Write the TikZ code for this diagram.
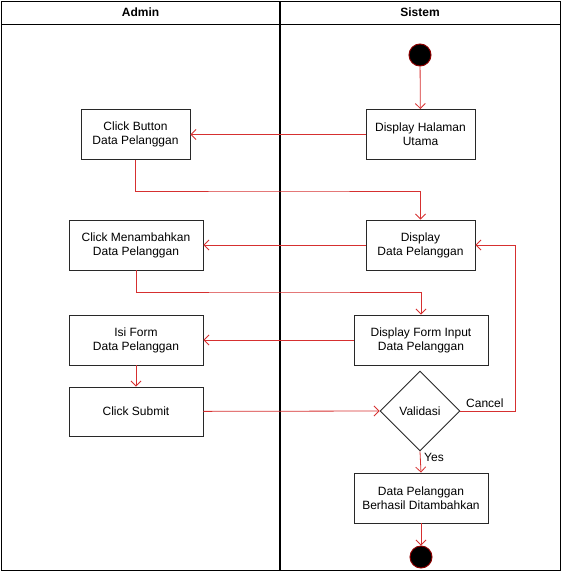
\documentclass[tikz,border=0pt]{standalone}
\usepackage{fontspec}
\setmainfont{Liberation Sans}
\usetikzlibrary{arrows.meta,shapes.geometric}
\definecolor{flow}{RGB}{214,48,48}
\definecolor{boxline}{RGB}{40,40,40}
\definecolor{dotrim}{RGB}{140,0,0}
\begin{document}
\begin{tikzpicture}[x=1pt,y=-1pt,
  font=\fontsize{12}{14}\selectfont,
  act/.style={draw=boxline,line width=0.9pt,fill=white,minimum height=50pt,align=center,inner sep=2pt},
  flowline/.style={draw=flow,line width=0.8pt,-{Straight Barb[length=5pt,width=10pt]}},
  dot/.style={circle,fill=black,draw=dotrim,line width=1pt,minimum size=22pt,inner sep=0pt},
  lane/.style={draw=black,line width=0.9pt}]
\useasboundingbox (0,0) rectangle (562,573);
% swimlanes
\draw[lane] (1,1) rectangle (560,570);
\draw[lane] (1,24) -- (560,24);
\draw[black,line width=1.6pt] (280,1) -- (280,570);
\node[font=\fontsize{12}{14}\selectfont\bfseries] (hadmin) at (140.5,12.5) {Admin};
\node[font=\fontsize{12}{14}\selectfont\bfseries] (hsistem) at (420,12.5) {Sistem};
% activity nodes
\node[dot] (start) at (420,55) {};
\node[act,minimum width=109pt] (halaman) at (420.5,134.5) {Display Halaman\\Utama};
\node[act,minimum width=109pt] (button) at (135.5,134.5) {Click Button\\Data Pelanggan};
\node[act,minimum width=109pt] (dispdata) at (420.5,245) {Display\\Data Pelanggan};
\node[act,minimum width=134pt] (tambah) at (136,245) {Click Menambahkan\\Data Pelanggan};
\node[act,minimum width=134pt] (forminput) at (421,340) {Display Form Input\\Data Pelanggan};
\node[act,minimum width=134pt] (isiform) at (136,340) {Isi Form\\Data Pelanggan};
\node[act,minimum width=134pt,minimum height=49pt] (submit) at (136,411.5) {Click Submit};
\node[diamond,draw=boxline,line width=0.9pt,fill=white,minimum width=80pt,minimum height=80pt,inner sep=0pt] (valid) at (420,411) {Validasi};
\node[act,minimum width=134pt] (berhasil) at (421,498) {Data Pelanggan\\Berhasil Ditambahkan};
\node[dot] (end) at (421,557) {};
% connectors
\draw[flowline] (start) -- (halaman);
\draw[flowline] (halaman) -- (button);
\draw[flowline] (button.south) |- (280,191) -| (dispdata.north);
\draw[flowline] (dispdata) -- (tambah);
\draw[flowline] (tambah.south) |- (280,292) -| (forminput.north);
\draw[flowline] (forminput) -- (isiform);
\draw[flowline] (isiform) -- (submit);
\draw[flowline] (submit) -- (valid.west);
\draw[flowline] (valid.east) -- (515,411) |- (dispdata.east);
\node[anchor=south west,inner sep=1pt] (cancel) at (465,409) {Cancel};
\draw[flowline] (valid.south) -- (berhasil.north);
\node[anchor=west,inner sep=1pt] (yes) at (423,457) {Yes};
\draw[flowline] (berhasil) -- (end);
\end{tikzpicture}
\end{document}
